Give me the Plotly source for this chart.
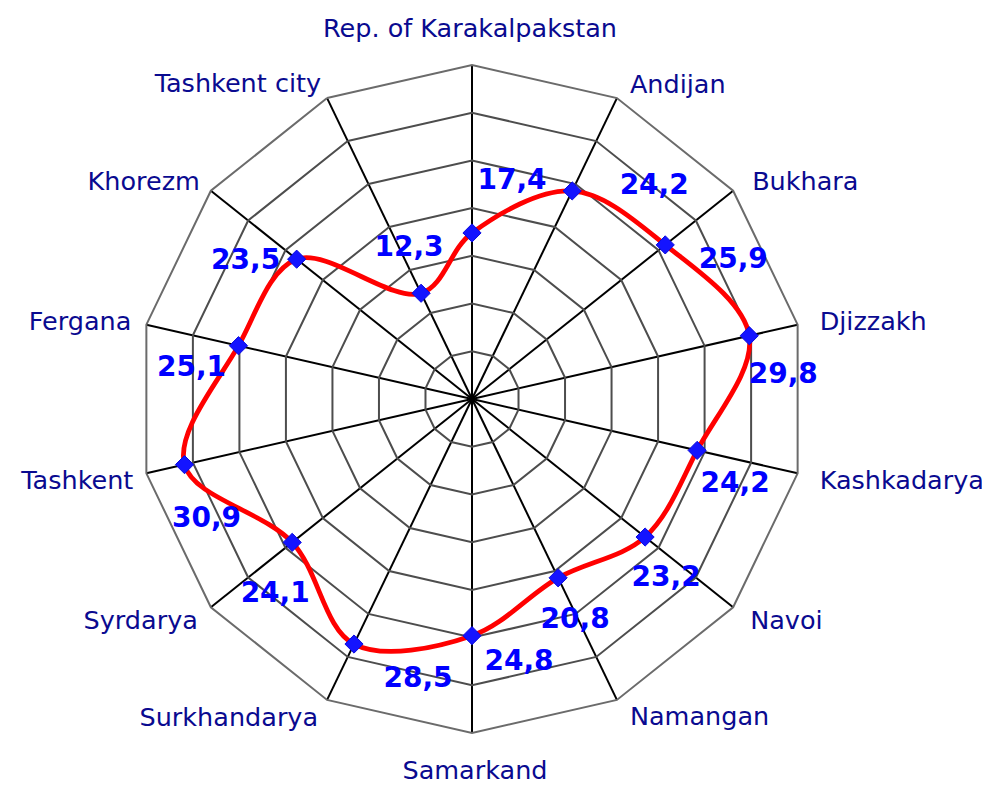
import math
import plotly.graph_objects as go

# ---------------- data ----------------
categories = ["Rep. of Karakalpakstan", "Andijan", "Bukhara", "Djizzakh", "Kashkadarya",
              "Navoi", "Namangan", "Samarkand", "Surkhandarya", "Syrdarya", "Tashkent",
              "Fergana", "Khorezm", "Tashkent city"]
values = [17.4, 24.2, 25.9, 29.8, 24.2, 23.2, 20.8, 24.8, 28.5, 24.1, 30.9, 25.1, 23.5, 12.3]
value_labels = [f"{v:.1f}".replace(".", ",") for v in values]

# ---------------- style / layout ----------------
# data-label offsets from their point (px, right / down)
label_dx = [40, 82, 68, 34, 38, 21, 17, 47, 64, -17, 22, -47, -51, -12]
label_dy = [-51, -4, 16, 40, 35, 42, 43, 27, 36, 53, 55, 23, 3, -44]

# category-label anchors and offsets from the outer polygon vertex (px)
cat_anchor = ["middle center", "middle right", "middle right", "middle right", "middle right",
              "middle right", "middle right", "middle center", "middle left", "middle left",
              "middle left", "middle left", "middle left", "middle left"]
cat_dx = [-2, 13, 19, 22, 22, 17, 13, 3, -9, -13, -13, -15, -11, -6]
cat_dy = [-34, -11, -7, -1, 9, 15, 19, 40, 20, 15, 9, -1, -7, -12]

R_MAX = 35
RADIUS_PX = 334
RADIUS2_PX = 390           # overlay subplot, larger so outer labels are inside its range
PAGE_OFFSET = 8            # browser body margin
CX, CY = 472 - PAGE_OFFSET, 399 - PAGE_OFFSET
W, H = 990, 785

n = len(categories)
step = 360.0 / n
theta_deg = [i * step for i in range(n)]
s = RADIUS_PX / R_MAX
R2_MAX = RADIUS2_PX / s


def offset_polar(r_vals, dxs, dys):
    rr, tt = [], []
    for v, t, dx, dy in zip(r_vals, theta_deg, dxs, dys):
        x = v * s * math.sin(math.radians(t)) + dx
        y = -v * s * math.cos(math.radians(t)) + dy
        rr.append(math.hypot(x, y) / s)
        tt.append(math.degrees(math.atan2(x, -y)) % 360)
    return rr, tt


lab_r, lab_t = offset_polar(values, label_dx, label_dy)
cat_r, cat_t = offset_polar([R_MAX] * n, cat_dx, cat_dy)


def make_domain(rad):
    return dict(x=[(CX - rad) / W, (CX + rad) / W],
                y=[1 - (CY + rad) / H, 1 - (CY - rad) / H])


fig = go.Figure()

# grid-defining invisible trace on categorical polar
fig.add_trace(go.Scatterpolar(r=values, theta=categories, mode="markers",
                              marker=dict(opacity=0), hoverinfo="skip",
                              showlegend=False, subplot="polar"))

# smoothed red line
fig.add_trace(go.Scatterpolar(r=values + [values[0]], theta=theta_deg + [360],
                              mode="lines", line=dict(color="#ff0000", width=4.8,
                                                      shape="spline", smoothing=1),
                              hoverinfo="skip", showlegend=False, subplot="polar2"))
# markers
fig.add_trace(go.Scatterpolar(r=values, theta=theta_deg, mode="markers",
                              marker=dict(symbol="diamond", size=14, color="#1414ff",
                                          line=dict(color="#0a0ae0", width=1)),
                              showlegend=False, subplot="polar2"))
# data labels
fig.add_trace(go.Scatterpolar(r=lab_r, theta=lab_t, mode="text", text=value_labels,
                              textposition="middle center", cliponaxis=False,
                              textfont=dict(family="DejaVu Sans", size=28,
                                            color="#0000ff", weight="bold"),
                              hoverinfo="skip", showlegend=False, subplot="polar2"))
# category labels
fig.add_trace(go.Scatterpolar(r=cat_r, theta=cat_t, mode="text", text=categories,
                              textposition=cat_anchor, cliponaxis=False,
                              textfont=dict(family="DejaVu Sans", size=25.5,
                                            color="#0a0a90"),
                              hoverinfo="skip", showlegend=False, subplot="polar2"))

fig.update_layout(
    width=W, height=H,
    margin=dict(l=0, r=0, t=0, b=0),
    paper_bgcolor="white",
    plot_bgcolor="white",
    font=dict(family="DejaVu Sans"),
    polar=dict(
        domain=make_domain(RADIUS_PX),
        gridshape="linear",
        bgcolor="white",
        angularaxis=dict(type="category", categoryarray=categories,
                         direction="clockwise", rotation=90,
                         showline=True, linecolor="#6b6b6b", linewidth=2,
                         showgrid=True, gridcolor="#000000", gridwidth=1.5,
                         ticks="", showticklabels=False),
        radialaxis=dict(range=[0, R_MAX], dtick=5, tick0=0,
                        showticklabels=False, ticks="", showline=False,
                        showgrid=True, gridcolor="#4d4d4d", gridwidth=2),
    ),
    polar2=dict(
        domain=make_domain(RADIUS2_PX),
        bgcolor="rgba(0,0,0,0)",
        angularaxis=dict(type="linear", direction="clockwise", rotation=90,
                         visible=False, showgrid=False, showline=False),
        radialaxis=dict(range=[0, R2_MAX], visible=False, showgrid=False, showline=False),
    ),
)

fig.write_html("out.html")
